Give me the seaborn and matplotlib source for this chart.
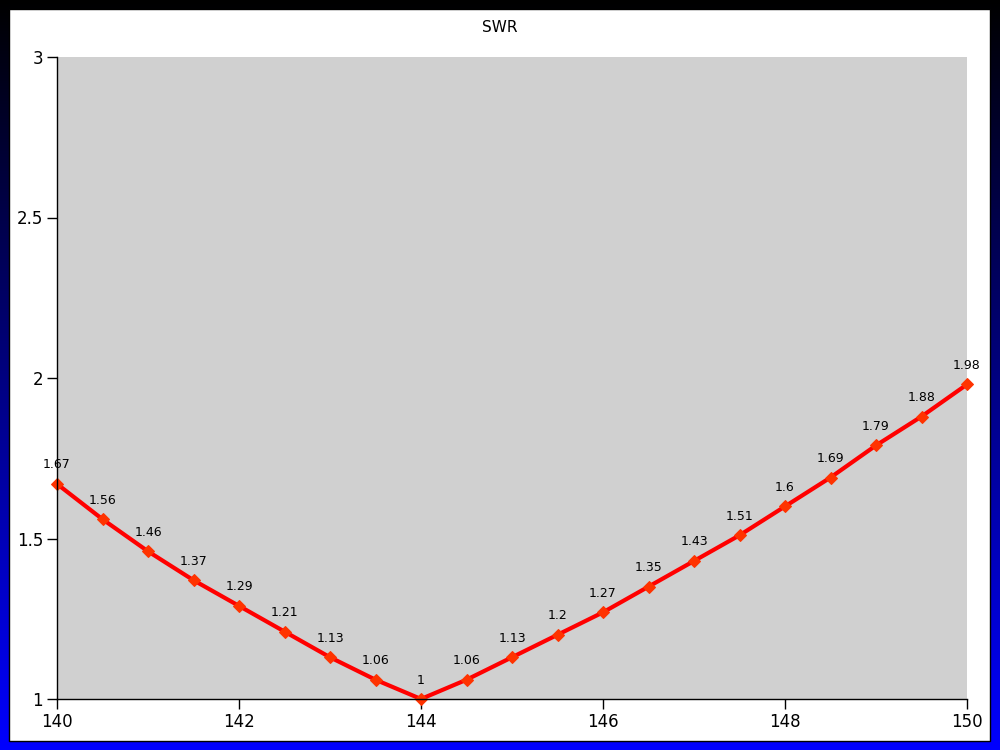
import numpy as np
import pandas as pd
import matplotlib
matplotlib.use("Agg")
import matplotlib.pyplot as plt
import seaborn as sns

freq = [140, 140.5, 141, 141.5, 142, 142.5, 143, 143.5, 144, 144.5, 145,
        145.5, 146, 146.5, 147, 147.5, 148, 148.5, 149, 149.5, 150]
swr = [1.67, 1.56, 1.46, 1.37, 1.29, 1.21, 1.13, 1.06, 1, 1.06, 1.13,
       1.2, 1.27, 1.35, 1.43, 1.51, 1.6, 1.69, 1.79, 1.88, 1.98]
x_ticks = [140, 142, 144, 146, 148, 150]
y_ticks = [1, 1.5, 2, 2.5, 3]
y_tick_labels = ["1", "1.5", "2", "2.5", "3"]

df = pd.DataFrame({"freq": freq, "swr": swr})

sns.set_style("white")
plt.rcParams["font.family"] = ["DejaVu Sans"]

fig = plt.figure(figsize=(10, 7.5), dpi=100)

# gradient background
bg = fig.add_axes([0, 0, 1, 1], zorder=-10)
grad = np.linspace(0, 1, 256).reshape(-1, 1)
cols = np.zeros((256, 1, 3))
cols[:, 0, 2] = grad[:, 0]
bg.imshow(cols, aspect="auto", extent=[0, 1, 0, 1], origin="upper")
bg.add_patch(plt.Rectangle((0.009, 0.012), 0.981, 0.976, facecolor="white",
                           edgecolor="black", lw=1, transform=bg.transAxes))
bg.set_axis_off()

ax = fig.add_axes([0.057, 0.068, 0.910, 0.856])
ax.set_facecolor("#d0d0d0")
sns.lineplot(data=df, x="freq", y="swr", ax=ax, color="#ff0000", lw=3,
             marker="D", markersize=6.5, markerfacecolor="#ff3300",
             markeredgecolor="#ff3300", clip_on=False)
for xv, yv in zip(freq, swr):
    ax.annotate(f"{yv:g}", (xv, yv), xytext=(0, 9), textcoords="offset points",
                ha="center", va="bottom", fontsize=9, color="black")

ax.set_xlim(140, 150)
ax.set_ylim(1, 3)
ax.set_xticks(x_ticks)
ax.set_xticklabels([str(t) for t in x_ticks])
ax.set_yticks(y_ticks)
ax.set_yticklabels(y_tick_labels)
ax.tick_params(axis="both", direction="out", length=7, width=1, labelsize=12,
               colors="black", left=True, bottom=True, pad=3)
ax.set_xlabel("")
ax.set_ylabel("")
for s in ["top", "right"]:
    ax.spines[s].set_visible(False)
for s in ["left", "bottom"]:
    ax.spines[s].set_color("black")
    ax.spines[s].set_linewidth(1)
fig.text(0.5, 0.963, "SWR", ha="center", va="center", fontsize=11, color="black")

fig.savefig("out.png", dpi=100)
